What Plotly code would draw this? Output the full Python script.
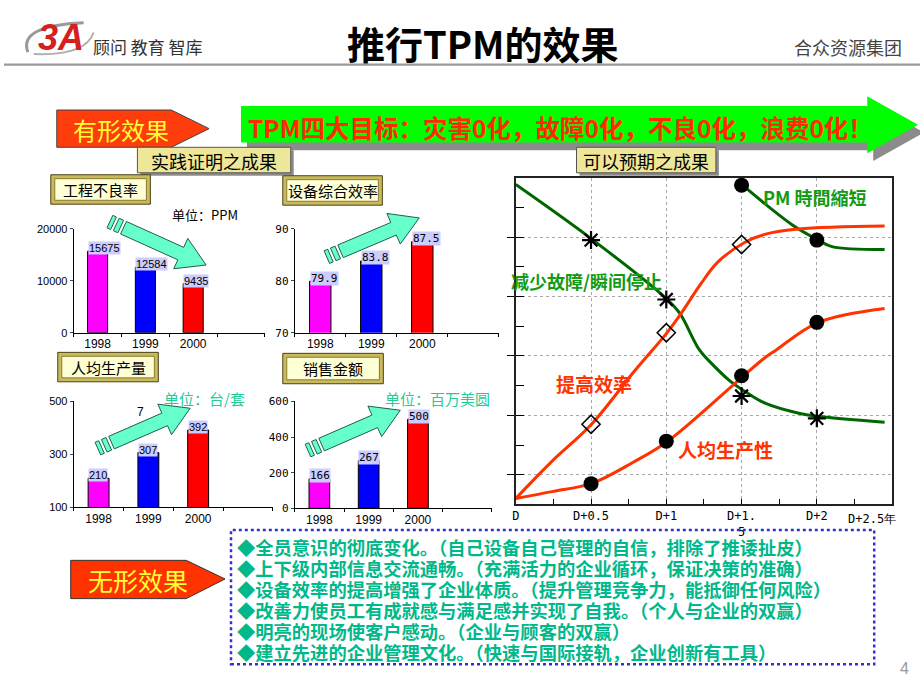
import math
import plotly.graph_objects as go

W, H = 920, 690
CJK = "Noto Sans CJK SC"

# ---------------- data ----------------
years = ["1998", "1999", "2000"]
defect_rate = [15675, 12584, 9435]          # 工程不良率 (PPM)
oee = [79.9, 83.8, 87.5]                     # 设备综合效率
per_capita = [210, 307, 392]                 # 人均生产量 (台/套)
sales = [166, 267, 500]                      # 销售金额 (百万美圆)
bar_colors = ["#FF00FF", "#0000FF", "#FF0000"]

period_vals = [0, 0.5, 1, 1.5, 2, 2.5]
period_text = ["D", "D+0.5", "D+1", "D+1.<br>5", "D+2", ""]

fail_x = [0, 0.5, 1.0, 1.09, 1.22, 1.3, 1.42, 1.53, 1.66, 1.88, 2.0, 2.45]
fail_y = [10.77, 8.95, 6.93, 6.43, 5.2, 4.75, 4.17, 3.78, 3.4, 3.07, 2.97, 2.77]
fail_mx = [0.5, 1.0, 1.5, 2.0]
fail_my = [8.9, 6.9, 3.65, 2.9]

pm_x = [1.51, 1.84, 2.01, 2.1, 2.45]
pm_y = [10.73, 9.4, 8.9, 8.68, 8.58]
pm_mx = [1.5, 2.0]
pm_my = [10.75, 8.9]

eff_x = [0, 0.24, 0.5, 0.79, 1.0, 1.1, 1.23, 1.34, 1.52, 1.66, 1.88, 2.45]
eff_y = [0.2, 1.45, 2.68, 4.5, 5.75, 6.44, 7.43, 8.15, 8.82, 9.1, 9.27, 9.37]
eff_mx = [0.5, 1.0, 1.5]
eff_my = [2.7, 5.78, 8.75]

prod_x = [0, 0.24, 0.5, 0.78, 1.01, 1.44, 1.64, 1.73, 2.01, 2.45]
prod_y = [0.2, 0.43, 0.7, 1.42, 2.13, 4.0, 4.88, 5.2, 6.13, 6.6]
prod_mx = [0.5, 1.0, 1.5, 2.0]
prod_my = [0.7, 2.13, 4.33, 6.13]

bullets = [
    "◆全员意识的彻底变化。（自己设备自己管理的自信，排除了推诿扯皮）",
    "◆上下级内部信息交流通畅。（充满活力的企业循环，保证决策的准确）",
    "◆设备效率的提高增强了企业体质。（提升管理竞争力，能抵御任何风险）",
    "◆改善力使员工有成就感与满足感并实现了自我。（个人与企业的双赢）",
    "◆明亮的现场使客户感动。（企业与顾客的双赢）",
    "◆建立先进的企业管理文化。（快速与国际接轨，企业创新有工具）",
]


# ---------------- helpers ----------------
def X(p):
    return p / W


def Y(p):
    return 1 - p / H


def path(pts, close=True):
    s = "M " + " L ".join(f"{X(a):.5f},{Y(b):.5f}" for a, b in pts)
    return s + (" Z" if close else "")


shapes = []
ann = []


def poly(pts, fill, line="rgba(0,0,0,0)", lw=1):
    shapes.append(dict(type="path", xref="paper", yref="paper", path=path(pts),
                       fillcolor=fill, line=dict(color=line, width=lw)))


def rect(x0, y0, x1, y1, fill, line="rgba(0,0,0,0)", lw=1, dash="solid"):
    shapes.append(dict(type="rect", xref="paper", yref="paper",
                       x0=X(x0), x1=X(x1), y0=Y(y1), y1=Y(y0),
                       fillcolor=fill, line=dict(color=line, width=lw, dash=dash)))


def text(x, y, t, size, color="black", xanchor="center", family=CJK, bold=False, **kw):
    if bold:
        t = f"<b>{t}</b>"
    ann.append(dict(x=X(x), y=Y(y), xref="paper", yref="paper", text=t, showarrow=False,
                    xanchor=xanchor, yanchor="middle",
                    font=dict(size=size, color=color, family=family), **kw))


def fat_arrow(S, T, w=7, hw=17, hl=28):
    dx, dy = T[0] - S[0], T[1] - S[1]
    L = math.hypot(dx, dy)
    ux, uy = dx / L, dy / L
    nx, ny = -uy, ux
    Bx, By = T[0] - ux * hl, T[1] - uy * hl
    pts = [(S[0] + nx * w, S[1] + ny * w), (Bx + nx * w, By + ny * w),
           (Bx + nx * hw, By + ny * hw), T, (Bx - nx * hw, By - ny * hw),
           (Bx - nx * w, By - ny * w), (S[0] - nx * w, S[1] - ny * w)]
    poly(pts, "#66FFCC", "#1F5F4F", 1)
    for a, b in [(3, 8), (11, 15)]:
        p0 = (S[0] - ux * a, S[1] - uy * a)
        p1 = (S[0] - ux * b, S[1] - uy * b)
        poly([(p0[0] + nx * w, p0[1] + ny * w), (p1[0] + nx * w, p1[1] + ny * w),
              (p1[0] - nx * w, p1[1] - ny * w), (p0[0] - nx * w, p0[1] - ny * w)],
             "#66FFCC", "#1F5F4F", 1)


def bevel_box(x0, y0, x1, y1, label):
    rect(x0, y0, x1, y1, "#C9BA5E", "#4A4218", 1)
    rect(x0 + 4, y0 + 4, x1 - 4, y1 - 4, "#FFFFD6", "#8A7A30", 1)
    text((x0 + x1) / 2, (y0 + y1) / 2, label, 15)


def plain_box(x0, y0, x1, y1, label):
    rect(x0 + 3, y0 + 3, x1 + 3, y1 + 3, "#8C8C8C")
    rect(x0, y0, x1, y1, "#EEE79A", "#555555", 1)
    text((x0 + x1) / 2, (y0 + y1) / 2 + 1, label, 18)


# ---------------- figure ----------------
fig = go.Figure()

bar_specs = [
    (defect_rate, "x", "y", (70, 262), (227, 333), [0, 20000], [0, 10000, 20000], "Liberation Sans"),
    (oee, "x2", "y2", (292, 497), (227, 333), [70, 90], [70, 80, 90], "DejaVu Sans Mono"),
    (per_capita, "x3", "y3", (70, 270), (403, 511), [100, 500], [100, 300, 500], "Liberation Sans"),
    (sales, "x4", "y4", (292, 490), (403, 512), [0, 600], [0, 200, 400, 600], "DejaVu Sans Mono"),
]
cat_pos = [0.5, 1.5, 2.5]
bw = 0.42
for i, (vals, xa, ya, xd, yd, rng, tv, fam) in enumerate(bar_specs):
    fig.add_trace(go.Bar(x=cat_pos, y=vals, width=bw, marker=dict(color=bar_colors,
                         line=dict(color="black", width=1)), xaxis=xa, yaxis=ya,
                         showlegend=False, hoverinfo="skip"))
    n = "" if i == 0 else str(i + 1)
    fig.layout["xaxis" + n] = dict(domain=[X(xd[0]), X(xd[1])], range=[0, 4], anchor=ya,
                                   tickvals=cat_pos, ticktext=years, ticks="", showline=True,
                                   linecolor="black", linewidth=1, showgrid=False, zeroline=False,
                                   tickfont=dict(size=12, family="Liberation Sans", color="black"),
                                   minor=dict(tickvals=[0, 1, 2, 3, 4], ticks="outside", ticklen=3,
                                              tickcolor="black"),
                                   fixedrange=True)
    fig.layout["yaxis" + n] = dict(domain=[Y(yd[1]), Y(yd[0])], range=rng, anchor=xa,
                                   tickvals=tv, ticktext=[str(t) for t in tv],
                                   ticks="outside", ticklen=3, showline=True,
                                   linecolor="black", linewidth=1, showgrid=False, zeroline=False,
                                   tickfont=dict(size=11, family=fam, color="black"),
                                   ticklabelstandoff=0, fixedrange=True)
    for p, v in zip(cat_pos, vals):
        ann.append(dict(x=p - bw / 2, y=v, xref=xa, yref=ya, text=str(v), showarrow=False,
                        xanchor="left", yanchor="middle", yshift=3, bgcolor="#CCCCFF",
                        borderpad=0, font=dict(size=11, family=fam, color="black")))

# ----- line chart -----
GREEN = "#006600"
RED = "#FF3300"
for xs, ys, c in [(fail_x, fail_y, GREEN), (pm_x, pm_y, GREEN),
                  (eff_x, eff_y, RED), (prod_x, prod_y, RED)]:
    fig.add_trace(go.Scatter(x=xs, y=ys, mode="lines", line=dict(color=c, width=3, shape="spline"),
                             xaxis="x5", yaxis="y5", showlegend=False, hoverinfo="skip"))
fig.add_trace(go.Scatter(x=fail_mx, y=fail_my, mode="markers", xaxis="x5", yaxis="y5",
                         marker=dict(symbol="asterisk-open", size=15, color="black",
                                     line=dict(color="black", width=2.2)),
                         showlegend=False, hoverinfo="skip", cliponaxis=False))
fig.add_trace(go.Scatter(x=eff_mx, y=eff_my, mode="markers", xaxis="x5", yaxis="y5",
                         marker=dict(symbol="diamond-open", size=14, color="black",
                                     line=dict(color="black", width=1.5)),
                         showlegend=False, hoverinfo="skip", cliponaxis=False))
fig.add_trace(go.Scatter(x=pm_mx + prod_mx, y=pm_my + prod_my, mode="markers", xaxis="x5",
                         yaxis="y5", marker=dict(symbol="circle", size=15, color="black"),
                         showlegend=False, hoverinfo="skip", cliponaxis=False))
fig.add_trace(go.Scatter(x=[None], y=[None], xaxis="x5", yaxis="y6", showlegend=False,
                         hoverinfo="skip"))

fig.layout["xaxis5"] = dict(domain=[X(514), X(892)], range=[0, 2.5], anchor="y5",
                            tickvals=period_vals, ticktext=period_text, ticks="inside", ticklen=5,
                            tickcolor="black", showline=True, mirror=True, linecolor="#222",
                            linewidth=1.5, showgrid=True, gridcolor="#A8A8A8", griddash="dot",
                            gridwidth=1, zeroline=False,
                            tickfont=dict(size=12, family="DejaVu Sans Mono", color="black"),
                            minor=dict(tickvals=[0.25, 0.75, 1.25, 1.75, 2.25], ticks="inside",
                                       ticklen=5, tickcolor="black", showgrid=False),
                            fixedrange=True)
fig.layout["yaxis5"] = dict(domain=[Y(508), Y(175)], range=[0, 11], anchor="x5",
                            tickvals=[1, 3, 5, 7, 9], ticks="outside", ticklen=7,
                            tickcolor="black", showticklabels=False, showline=True, mirror=True,
                            linecolor="#222", linewidth=1.5, showgrid=True, gridcolor="#A8A8A8",
                            griddash="dot", gridwidth=1, zeroline=False, fixedrange=True)
fig.layout["yaxis6"] = dict(overlaying="y5", anchor="x5", side="left", range=[0, 11],
                            tickvals=list(range(1, 11)), ticks="inside", ticklen=8,
                            tickcolor="black", showticklabels=False, showline=False,
                            showgrid=False, zeroline=False, fixedrange=True)
ann.append(dict(x=2.5, y=0, xref="x5", yref="y5", text="D+2.5年", showarrow=False,
                xanchor="right", yanchor="top", xshift=6, yshift=-6,
                font=dict(size=12, family="DejaVu Sans Mono", color="black")))

# ---------------- header ----------------
shapes.append(dict(type="path", xref="paper", yref="paper",
                   path=f"M {X(24):.5f},{Y(47):.5f} Q {X(14):.5f},{Y(20):.5f} {X(80):.5f},{Y(17):.5f}",
                   line=dict(color="#9A9A9A", width=3)))
shapes.append(dict(type="path", xref="paper", yref="paper",
                   path=f"M {X(30):.5f},{Y(49):.5f} Q {X(82):.5f},{Y(51):.5f} {X(90):.5f},{Y(27):.5f}",
                   line=dict(color="#B0B0B0", width=2)))
text(57, 32, "<i>3A</i>", 36, "#D42020", family="Liberation Sans", bold=True)
text(87, 41, "顾问 教育 智库", 17, "#333333", xanchor="left")
text(481, 37, "推行TPM的效果", 38, "black", bold=True)
text(848, 42, "合众资源集团", 18, "#444444")
rect(0, 58.5, 920, 61, "#9A9A9A")

# 有形效果
poly([(53, 106), (168, 106), (206, 125), (168, 144), (53, 144)], "#FF3C0C", "#444", 1)
text(118, 126, "有形效果", 24, "#FFFF33")

# green banner arrow with shadow
banner = [(238, 102), (867, 102), (867, 92), (918, 121), (867, 150), (867, 139), (238, 139)]
poly([(a + 6, b + 8) for a, b in banner], "#8C8C8C")
poly(banner, "#00FF00")
text(243, 124, "TPM四大目标：灾害0化，故障0化，不良0化，浪费0化！", 24.5, "#FF2A00",
     xanchor="left", bold=True)

plain_box(134, 144, 288, 170, "实践证明之成果")
plain_box(575, 144, 715, 170, "可以预期之成果")

bevel_box(47, 172, 147, 202, "工程不良率")
bevel_box(280, 173, 380, 203, "设备综合效率")
bevel_box(54, 353, 155, 383, "人均生产量")
bevel_box(280, 354, 381, 385, "销售金额")

text(202, 213, "单位：PPM", 13, "black")
text(201, 400, "单位：台/套", 15, "#22CC99")
text(435, 400, "单位：百万美圆", 15, "#22CC99")
text(137, 414, "7", 12, "black", family="Liberation Sans")

fat_arrow((120, 226), (203, 264))
fat_arrow((338, 250), (417, 216))
fat_arrow((108, 445), (187, 410))
fat_arrow((319, 447), (398, 412))

# line-chart labels
text(760, 195, "PM 時間縮短", 18, "#139A13", xanchor="left", bold=True)
text(507, 280, "减少故障/瞬间停止", 18, "#139A13", xanchor="left", bold=True)
text(552, 385, "提高效率", 19, RED, xanchor="left", bold=True)
text(675, 452, "人均生产性", 19, RED, xanchor="left", bold=True)

# 无形效果
poly([(67, 565), (183, 565), (222, 584), (183, 604), (67, 604)], "#FF3300", "#333", 1)
text(135, 585, "无形效果", 25, "#FFFF33")

# bullet box
rect(228, 534, 874, 671, "rgba(0,0,0,0)", "#3333CC", 2.5, "dot")
for i, line in enumerate(bullets):
    text(232, 551 + i * 21.5, line, 18.3, "#00B88A", xanchor="left", bold=True)

text(904, 675, "4", 16, "#999999", family="Liberation Sans")

fig.update_layout(width=W, height=H, autosize=False, margin=dict(l=0, r=0, t=0, b=0),
                  paper_bgcolor="white", plot_bgcolor="rgba(0,0,0,0)", shapes=shapes,
                  annotations=ann, bargap=0, showlegend=False)
fig.write_html("out.html", config={"displayModeBar": False, "staticPlot": True},
               post_script="document.body.style.margin='0';document.body.style.padding='0';"
                           "document.body.style.overflow='hidden';")
